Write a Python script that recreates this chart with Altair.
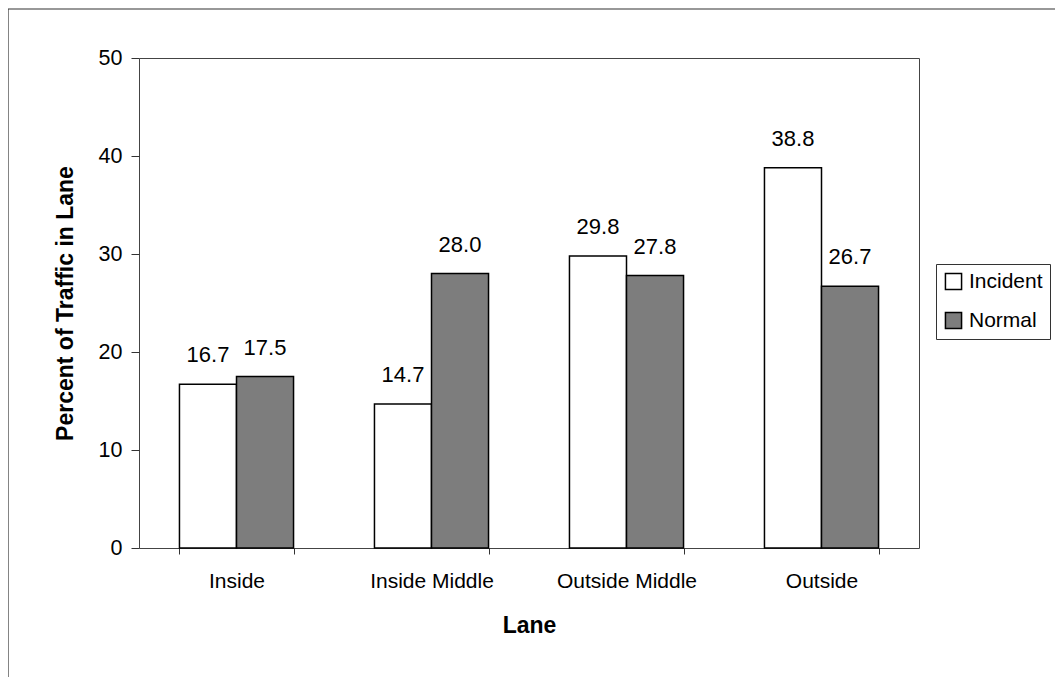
import altair as alt
import pandas as pd

lanes = ["Inside", "Inside Middle", "Outside Middle", "Outside"]
incident = [16.7, 14.7, 29.8, 38.8]
normal = [17.5, 28.0, 27.8, 26.7]
series = ["Incident", "Normal"]
y_ticks = [0, 10, 20, 30, 40, 50]

rows = []
for i, lane in enumerate(lanes):
    rows.append({"Lane": lane, "Series": "Incident", "Value": incident[i]})
    rows.append({"Lane": lane, "Series": "Normal", "Value": normal[i]})
df = pd.DataFrame(rows)

FONT = "Liberation Sans"

x_enc = alt.X(
    "Lane:N",
    sort=lanes,
    scale=alt.Scale(paddingInner=0.415, paddingOuter=0.2075),
    axis=alt.Axis(
        title="Lane",
        labelAngle=0,
        labelFontSize=21,
        tickBand="extent",
        tickSize=6,
        tickColor="#333",
        domain=False,
        labelPadding=16,
        titlePadding=23,
    ),
)
y_enc = alt.Y(
    "Value:Q",
    scale=alt.Scale(domain=[0, 50], nice=False),
    axis=alt.Axis(
        title="Percent of Traffic in Lane",
        values=y_ticks,
        labelFontSize=21.5,
        tickSize=8,
        tickColor="#333",
        domain=False,
        labelPadding=9,
        titlePadding=21,
        grid=False,
    ),
)
color_enc = alt.Color(
    "Series:N",
    scale=alt.Scale(domain=series, range=["#ffffff", "#7d7d7d"]),
    legend=alt.Legend(
        title=None,
        orient="none",
        legendX=797,
        legendY=206,
        symbolType="square",
        symbolSize=260,
        symbolStrokeColor="black",
        symbolStrokeWidth=1.5,
        labelFontSize=21,
        labelFont=FONT,
        labelColor="black",
        rowPadding=16,
        padding=7,
        strokeColor="#333",
        fillColor="white",
        labelOffset=5,
    ),
)

base = alt.Chart(df)

bars = base.mark_bar(stroke="black", strokeWidth=1.5).encode(
    x=x_enc,
    xOffset=alt.XOffset("Series:N", sort=series, scale=alt.Scale(paddingInner=0, paddingOuter=0)),
    y=y_enc,
    fill=color_enc,
)

labels = base.mark_text(
    baseline="bottom", dy=-17, fontSize=22, font=FONT, color="black"
).encode(
    x=alt.X("Lane:N", sort=lanes),
    xOffset=alt.XOffset("Series:N", sort=series),
    y="Value:Q",
    text=alt.Text("Value:Q", format=".1f"),
)

frame = alt.Chart(pd.DataFrame({"a": [0]})).mark_rect(
    fill=None, stroke="#333", strokeWidth=1.2
).encode(
    x=alt.value(-131), x2=alt.value(3000), y=alt.value(-49), y2=alt.value(3000)
)

chart = (
    alt.layer(frame, bars, labels)
    .properties(
        width=780,
        height=490,
        autosize=alt.AutoSizeParams(type="none"),
        padding={"left": 131, "top": 50, "right": 136, "bottom": 129},
    )
    .configure_view(stroke="#444", strokeWidth=1)
    .configure_axis(
        labelFont=FONT,
        labelColor="black",
        titleFont=FONT,
        titleFontSize=23,
        titleFontWeight="bold",
        titleColor="black",
    )
)

chart.save("out.html", embed_options={"renderer": "svg", "actions": False})
